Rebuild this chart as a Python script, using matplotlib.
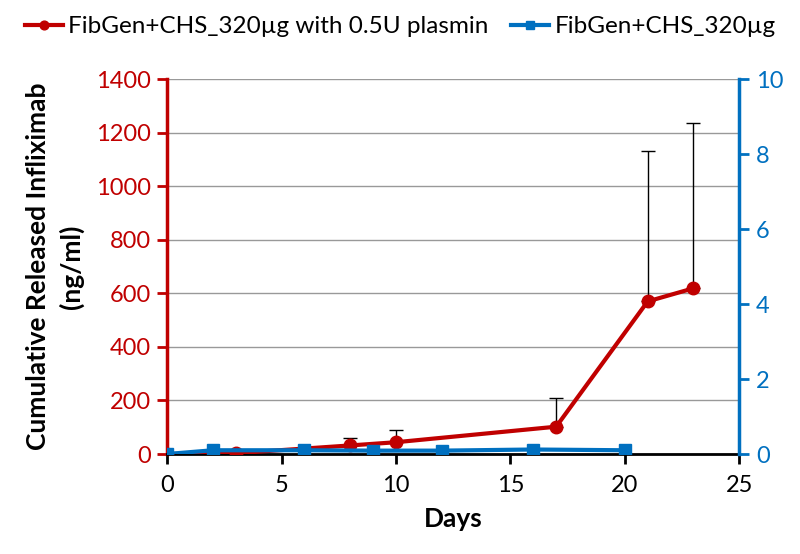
import matplotlib.pyplot as plt
import numpy as np

# --- Data ---
days_plasmin = [0, 3, 8, 10, 17, 21, 23]
release_plasmin = [0, 3, 32, 44, 102, 570, 619]
err_plasmin = [0, 0, 28, 46, 107, 562, 616]

days_ctrl = [0, 2, 6, 9, 12, 16, 20]
release_ctrl = [0, 0.1, 0.1, 0.09, 0.09, 0.12, 0.1]

red = '#C00000'
blue = '#0070C0'

plt.rcParams['font.family'] = ['Lato', 'DejaVu Sans']

fig = plt.figure(figsize=(8, 5.54), dpi=100)
ax = fig.add_axes([0.209, 0.1805, 0.715, 0.6765])
ax2 = ax.twinx()

# error bars (upper only)
ax.errorbar(days_plasmin, release_plasmin,
            yerr=[np.zeros(len(err_plasmin)), err_plasmin],
            fmt='none', ecolor='black', elinewidth=1, capsize=5, capthick=1, zorder=2)
l1, = ax.plot(days_plasmin, release_plasmin, color=red, lw=3, marker='o', ms=9,
              label='FibGen+CHS_320µg with 0.5U plasmin', zorder=3)
l2, = ax2.plot(days_ctrl, release_ctrl, color=blue, lw=3, marker='s', ms=8,
               label='FibGen+CHS_320µg', zorder=3)

ax.set_xlim(0, 25)
ax.set_ylim(0, 1400)
ax2.set_ylim(0, 10)
ax.set_xticks(range(0, 26, 5))
ax.set_yticks(range(0, 1401, 200))
ax2.set_yticks(range(0, 11, 2))
ax.grid(axis='y', color='#999999', lw=1)
ax.set_axisbelow(True)

for a in (ax, ax2):
    a.spines['top'].set_visible(False)
ax.spines['left'].set_color(red)
ax.spines['left'].set_linewidth(2.5)
ax2.spines['left'].set_visible(False)
ax2.spines['right'].set_color(blue)
ax2.spines['right'].set_linewidth(2.5)
ax2.spines['bottom'].set_visible(False)
ax.spines['right'].set_visible(False)
ax.spines['bottom'].set_linewidth(2)

ax.tick_params(axis='x', direction='out', length=7, width=2, labelsize=17, pad=8)
ax.tick_params(axis='y', colors=red, direction='out', length=7, width=2, labelsize=17, pad=5)
ax2.tick_params(axis='y', colors=blue, direction='out', length=7, width=2, labelsize=17, pad=5)

ax.set_xlabel('Days', fontsize=19, fontweight='bold', labelpad=8)
ax.set_ylabel('Cumulative Released Infliximab\n(ng/ml)', fontsize=19, fontweight='bold',
              labelpad=8, linespacing=1.45)

fig.legend(handles=[l1, l2], loc='upper center', bbox_to_anchor=(0.5, 1.01), ncol=2,
           frameon=False, fontsize=17.5, handlelength=1.6, handletextpad=0.2,
           columnspacing=0.9, markerscale=0.7)

fig.savefig('out.png', dpi=100)
